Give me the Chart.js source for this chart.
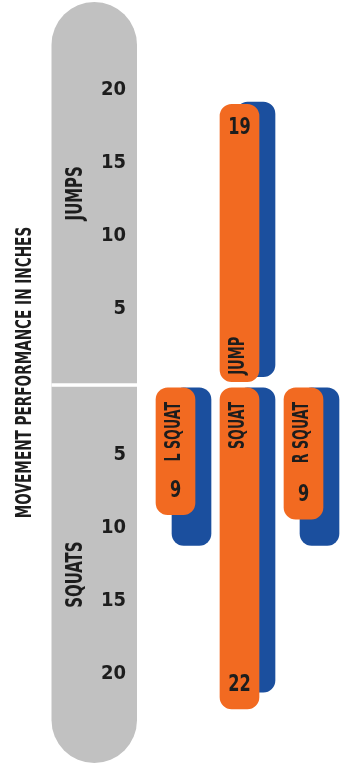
<!DOCTYPE html>
<html>
<head>
<meta charset="utf-8">
<title>Movement performance</title>
<script src="https://cdn.jsdelivr.net/npm/chart.js@4.4.1/dist/chart.umd.min.js"></script>
<style>
  html, body { margin: 0; padding: 0; background: #fff; }
  .wrap { position: relative; width: 340px; height: 765px; }
</style>
</head>
<body>
<div class="wrap"><canvas id="perfChart"></canvas></div>
<script>
// ---------------- Data ----------------

const squatNames = ["L SQUAT", "SQUAT", "R SQUAT"];
const squatValues = [9.1, 22.4, 9.4];      // orange bars
const squatBehind = [11.2, 21.25, 11.2];   // blue bars behind
const jumpNames = ["JUMP"];
const jumpValues = [19];
const jumpBehind = [19.15];
const jumpSlot = [1];                      // jump sits above the middle squat
const sectionNames = ["JUMPS", "SQUATS"];
const tickValues = [20, 15, 10, 5, -5, -10, -15, -20];
const axisTitle = "MOVEMENT PERFORMANCE IN INCHES";

// ---------------- Style ----------------

const FONT = '"DejaVu Sans Condensed", "Liberation Sans Narrow", sans-serif';
const ORANGE = "#F26A21";
const BLUE = "#1B4F9E";
const GRAY = "#C1C1C1";
const INK = "#1d1d1d";
const SHIFT = 0.25;       // blue bars sit a quarter slot to the right
const SQUAT_GAP = 0.42;   // squats start just under the divider
const JUMP_LIFT = 0.35;   // blue jump bar starts a little higher

function squeezeText(ctx, text, x, y, angle, sx, align) {
    ctx.save();
    ctx.translate(x, y);
    ctx.rotate(angle);
    ctx.scale(sx, 1);
    ctx.textAlign = align;
    ctx.textBaseline = "middle";
    ctx.fillText(text, 0, 0);
    ctx.restore();
}

// ---------------- Plugins ----------------

// gray pill behind the y axis + white divider at zero
const backdrop = {
    id: "backdrop",
    beforeDraw(chart) {
        const { ctx, chartArea, scales } = chart;
        const left = 51.5, right = 137;
        const zero = scales.y.getPixelForValue(0);
        ctx.save();
        ctx.fillStyle = GRAY;
        ctx.beginPath();
        ctx.roundRect(left, chartArea.top, right - left, chartArea.bottom - chartArea.top, (right - left) / 2);
        ctx.fill();
        ctx.fillStyle = "#fff";
        ctx.fillRect(left, zero + 1.5, right - left, 3.5);
        ctx.restore();
    }
};

// names and values inside the bars, section names, axis title
const barText = {
    id: "barText",
    afterDatasetsDraw(chart) {
        const { ctx, scales } = chart;
        ctx.save();
        ctx.fillStyle = INK;

        chart.data.datasets.forEach((ds, di) => {
            if (!ds.names) return;
            chart.getDatasetMeta(di).data.forEach((bar, i) => {
                const up = bar.y < bar.base;
                const val = Math.round(Math.abs(ds.data[i].y[1]));
                ctx.font = "bold 23px " + FONT;
                squeezeText(ctx, String(val), bar.x, up ? bar.y + 24 : bar.y - 24, 0, 0.78, "center");
                ctx.font = "bold 22px " + FONT;
                if (up) {
                    squeezeText(ctx, ds.names[i], bar.x - 1, bar.base - 7, -Math.PI / 2, 0.66, "left");
                } else {
                    squeezeText(ctx, ds.names[i], bar.x - 1, bar.base + 14, -Math.PI / 2, 0.64, "right");
                }
            });
        });

        ctx.font = "bold 23px " + FONT;
        squeezeText(ctx, sectionNames[0], 76, scales.y.getPixelForValue(12.9), -Math.PI / 2, 0.72, "center");
        squeezeText(ctx, sectionNames[1], 76, scales.y.getPixelForValue(-13.2), -Math.PI / 2, 0.72, "center");

        ctx.font = "bold 21px " + FONT;
        squeezeText(ctx, axisTitle, 26, 372.5, -Math.PI / 2, 0.72, "center");
        ctx.restore();
    }
};

// ---------------- Chart ----------------

const perfChart = document.getElementById("perfChart");

new Chart(perfChart, {
    type: "bar",
    data: {
        datasets: [
            {
                label: "Jump",
                names: jumpNames,
                data: jumpValues.map((v, i) => ({ x: jumpSlot[i], y: [0, v] })),
                backgroundColor: ORANGE,
                order: 0
            },
            {
                label: "Squat",
                names: squatNames,
                data: squatValues.map((v, i) => ({ x: i, y: [-SQUAT_GAP, -v] })),
                backgroundColor: ORANGE,
                order: 0
            },
            {
                label: "Jump behind",
                data: jumpBehind.map((v, i) => ({ x: jumpSlot[i] + SHIFT, y: [JUMP_LIFT, v] })),
                backgroundColor: BLUE,
                order: 1
            },
            {
                label: "Squat behind",
                data: squatBehind.map((v, i) => ({ x: i + SHIFT, y: [-SQUAT_GAP, -v] })),
                backgroundColor: BLUE,
                order: 1
            }
        ]
    },
    options: {
        responsive: true,
        maintainAspectRatio: false,
        animation: false,
        grouped: false,
        barThickness: 39,
        borderRadius: 12,
        borderSkipped: false,
        clip: false,
        layout: { padding: { top: 2, bottom: 2, left: 0, right: 4.5 } },
        plugins: {
            legend: { display: false },
            tooltip: { enabled: false }
        },
        scales: {
            x: {
                type: "linear",
                min: -0.5,
                max: 2.5,
                offset: false,
                display: false
            },
            y: {
                type: "linear",
                min: -26.1,
                max: 26,
                afterBuildTicks: (scale) => {
                    scale.ticks = tickValues.map(v => ({ value: v }));
                },
                afterFit: (scale) => {
                    scale.width = 143.5;
                    scale.paddingTop = 0;
                    scale.paddingBottom = 0;
                },
                grid: { display: false, drawTicks: false },
                border: { display: false },
                ticks: {
                    autoSkip: false,
                    padding: 17.5,
                    color: INK,
                    font: { family: FONT, size: 20, weight: "bold" },
                    callback: (v) => Math.abs(v)
                }
            }
        }
    },
    plugins: [backdrop, barText]
});
</script>
</body>
</html>
